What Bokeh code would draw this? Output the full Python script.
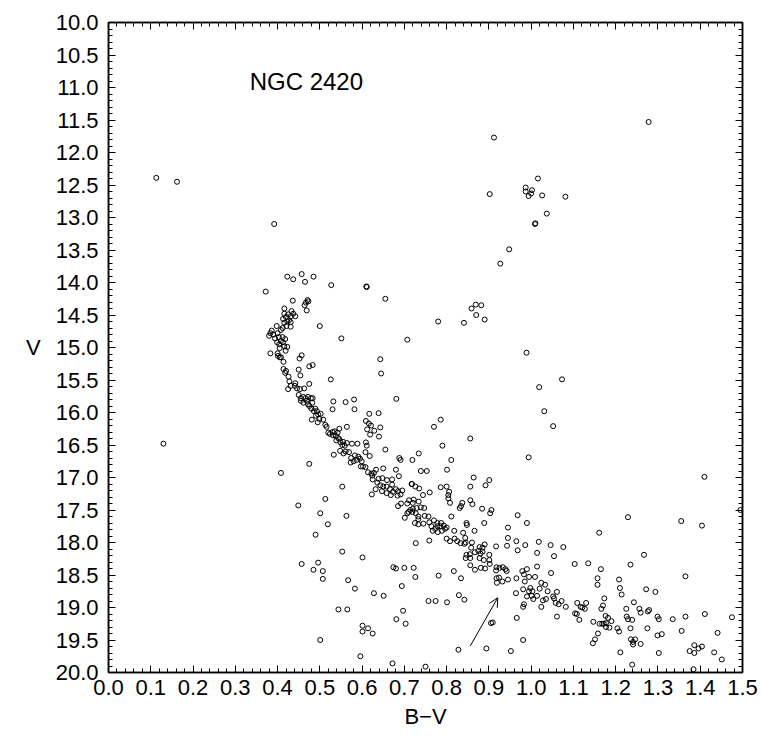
from bokeh.plotting import figure
from bokeh.models import (Range1d, LinearAxis, FixedTicker, NumeralTickFormatter,
                          Label, Arrow, OpenHead, ColumnDataSource)
from bokeh.embed import file_html
from bokeh.resources import INLINE

# ---------------- data (B-V, V) ----------------
bv_bright = [0.113, 0.162, 0.392, 1.278, 0.912, 1.016, 0.987, 0.987, 1.002, 1.000,
             0.994, 1.026, 1.081, 0.902, 1.037, 1.009, 1.010, 0.948, 0.927, 0.130]
v_bright = [12.39, 12.45, 13.10, 11.53, 11.77, 12.40, 12.54, 12.60, 12.58, 12.63,
            12.67, 12.66, 12.68, 12.64, 12.94, 13.10, 13.09, 13.49, 13.71, 16.48]

bv_turnoff = [0.423, 0.437, 0.457, 0.465, 0.485, 0.527, 0.610, 0.611, 0.372, 0.436,
              0.655, 0.471, 0.467, 0.464, 0.473, 0.469, 0.416, 0.433, 0.437, 0.425,
              0.416, 0.420, 0.431, 0.442, 0.413, 0.427, 0.423, 0.416, 0.431, 0.398,
              0.421, 0.431, 0.412, 0.408, 0.386, 0.383, 0.380, 0.390, 0.400, 0.403,
              0.394, 0.412, 0.418, 0.408, 0.399, 0.413, 0.404, 0.416, 0.423, 0.405,
              0.419, 0.383, 0.400, 0.405, 0.401, 0.408, 0.457, 0.452, 0.414, 0.500,
              0.551, 0.707, 0.643, 0.645, 0.475, 0.483, 0.450, 0.454, 0.414, 0.418,
              0.420, 0.426, 0.526, 0.428, 0.431, 0.425, 0.442, 0.441, 0.446, 0.453,
              0.463, 0.475]
v_turnoff = [13.91, 13.95, 13.87, 13.99, 13.91, 14.04, 14.06, 14.07, 14.14, 14.28,
             14.25, 14.27, 14.31, 14.35, 14.29, 14.43, 14.40, 14.44, 14.48, 14.49,
             14.48, 14.53, 14.52, 14.52, 14.56, 14.58, 14.60, 14.62, 14.61, 14.67,
             14.67, 14.68, 14.70, 14.73, 14.74, 14.78, 14.82, 14.80, 14.78, 14.84,
             14.86, 14.84, 14.87, 14.90, 14.92, 14.92, 14.95, 14.98, 14.99, 15.01,
             15.05, 15.09, 15.09, 15.15, 15.13, 15.15, 15.12, 15.17, 15.22, 14.67,
             14.86, 14.88, 15.18, 15.40, 15.29, 15.27, 15.34, 15.43, 15.33, 15.39,
             15.36, 15.45, 15.49, 15.52, 15.59, 15.64, 15.55, 15.59, 15.63, 15.64,
             15.63, 15.56]

bv_upper_ms = [0.450, 0.455, 0.461, 0.466, 0.472, 0.479, 0.455, 0.461, 0.469, 0.472,
               0.483, 0.482, 0.475, 0.480, 0.486, 0.489, 0.493, 0.496, 0.502, 0.491,
               0.499, 0.508, 0.481, 0.495, 0.513, 0.516, 0.532, 0.530, 0.561, 0.581,
               0.582, 0.681, 0.617, 0.639, 0.609, 0.616, 0.621, 0.546, 0.564, 0.612,
               0.629, 0.643, 0.619, 0.640, 0.520, 0.524, 0.530, 0.535, 0.542, 0.531,
               0.538, 0.543, 0.539, 0.546, 0.549, 0.555, 0.553, 0.559, 0.564, 0.576,
               0.589, 0.609, 0.611, 0.608, 0.618, 0.655, 0.548, 0.561, 0.569, 0.556,
               0.533, 0.574, 0.583, 0.591, 0.595, 0.573, 0.580, 0.587, 0.599, 0.597,
               0.602, 0.608, 0.633, 0.650, 0.680, 0.688, 0.691, 0.475]
v_upper_ms = [15.73, 15.78, 15.76, 15.78, 15.76, 15.78, 15.82, 15.85, 15.82, 15.87,
              15.78, 15.85, 15.90, 15.94, 15.98, 15.94, 15.98, 16.03, 16.02, 16.05,
              16.10, 16.11, 16.11, 16.15, 16.19, 16.22, 15.83, 15.95, 15.84, 15.80,
              15.95, 15.79, 16.02, 16.01, 16.13, 16.17, 16.20, 16.25, 16.22, 16.26,
              16.28, 16.23, 16.34, 16.37, 16.31, 16.33, 16.30, 16.29, 16.31, 16.35,
              16.36, 16.39, 16.43, 16.41, 16.46, 16.45, 16.50, 16.51, 16.47, 16.48,
              16.48, 16.46, 16.51, 16.61, 16.67, 16.57, 16.59, 16.60, 16.61, 16.63,
              16.65, 16.70, 16.66, 16.68, 16.71, 16.77, 16.75, 16.73, 16.75, 16.83,
              16.83, 16.84, 16.88, 16.86, 16.88, 16.70, 16.73, 16.79]

bv_mid_field = [0.869, 0.882, 0.859, 0.870, 0.890, 0.780, 0.841, 0.989, 1.073, 1.019,
                1.031, 1.052, 0.786, 0.770, 0.856, 0.790, 0.734, 0.719, 0.811, 0.994]
v_mid_field = [14.34, 14.35, 14.40, 14.50, 14.57, 14.60, 14.62, 15.08, 15.49, 15.61,
               15.98, 16.21, 16.11, 16.22, 16.40, 16.51, 16.63, 16.73, 16.73, 16.69]

bv_left_faint = [0.408, 0.553, 0.513, 0.449, 0.501, 0.563, 0.519, 0.490, 0.553, 0.601,
                 0.457, 0.496, 0.485, 0.507, 0.507, 0.567, 0.583, 0.628, 0.651, 0.674,
                 0.680, 0.700, 0.694, 0.544, 0.565, 0.697, 0.681, 0.703, 0.601, 0.601,
                 0.614, 0.625, 0.501, 0.596, 0.672]
v_left_faint = [16.93, 17.14, 17.33, 17.43, 17.55, 17.59, 17.72, 17.88, 18.14, 18.23,
                18.33, 18.31, 18.42, 18.44, 18.56, 18.58, 18.71, 18.78, 18.82, 18.38,
                18.40, 18.39, 18.67, 19.03, 19.03, 19.05, 19.18, 19.25, 19.28, 19.37,
                19.32, 19.40, 19.50, 19.75, 19.86]

bv_ms_a = [0.614, 0.622, 0.628, 0.624, 0.687, 0.625, 0.639, 0.648, 0.659, 0.671,
           0.636, 0.643, 0.650, 0.658, 0.671, 0.680, 0.666, 0.632, 0.623, 0.647,
           0.658, 0.668, 0.673, 0.685, 0.695, 0.684, 0.691, 0.717, 0.711, 0.707,
           0.692, 0.685, 0.710, 0.707, 0.701, 0.714]
v_ms_a = [16.92, 16.94, 16.93, 16.97, 16.98, 17.03, 17.02, 17.01, 17.04, 17.03,
          17.08, 17.12, 17.14, 17.14, 17.11, 17.18, 17.18, 17.18, 17.26, 17.21,
          17.24, 17.27, 17.22, 17.21, 17.20, 17.28, 17.26, 17.10, 17.35, 17.40,
          17.40, 17.44, 17.53, 17.55, 17.62, 17.50]

bv_ms_b = [0.739, 0.753, 0.801, 0.864, 0.718, 0.726, 0.735, 0.744, 0.760, 0.786,
           0.800, 0.806, 0.804, 0.804, 0.808, 0.856, 0.892, 0.901, 0.856, 0.861,
           0.837, 0.831, 0.834, 0.884, 0.906, 0.903, 0.889, 0.722, 0.720, 0.734,
           0.720, 0.729, 0.739, 0.747, 0.719, 0.727, 0.733, 0.748, 0.757, 0.733,
           0.725, 0.733, 0.745, 0.759, 0.811, 0.770, 0.778, 0.787, 0.793, 0.800,
           0.764, 0.773, 0.767, 0.778, 0.785, 0.796, 0.779, 0.789, 0.818, 0.839,
           0.847, 0.848, 0.866, 0.759, 0.727, 0.800, 0.808, 0.819, 0.825, 0.833,
           0.844, 0.845, 0.842, 0.860, 0.858, 0.878, 0.890, 0.885, 0.875, 0.867,
           0.885, 0.880, 0.855, 0.847, 0.845, 0.856, 0.878, 0.888, 0.901, 0.901,
           0.902, 0.856, 0.867, 0.881, 0.891]
v_ms_b = [16.90, 16.90, 16.88, 17.00, 17.10, 17.14, 17.17, 17.27, 17.23, 17.15,
          17.14, 17.22, 17.27, 17.32, 17.39, 17.14, 17.12, 17.04, 17.35, 17.41,
          17.39, 17.47, 17.44, 17.48, 17.50, 17.55, 17.70, 17.34, 17.39, 17.37,
          17.48, 17.47, 17.46, 17.47, 17.53, 17.55, 17.60, 17.59, 17.60, 17.64,
          17.70, 17.72, 17.71, 17.69, 17.60, 17.66, 17.70, 17.70, 17.74, 17.77,
          17.75, 17.79, 17.82, 17.75, 17.75, 17.79, 17.84, 17.82, 17.82, 17.85,
          17.70, 17.73, 17.82, 17.97, 18.01, 17.94, 17.98, 17.94, 17.98, 18.01,
          17.93, 18.00, 18.02, 18.00, 18.08, 18.07, 18.03, 18.08, 18.13, 18.15,
          18.14, 18.17, 18.18, 18.19, 18.24, 18.24, 18.24, 18.27, 18.19, 18.27,
          18.33, 18.35, 18.42, 18.39, 18.40]

bv_ms_c = [0.917, 0.943, 0.945, 0.945, 0.968, 0.990, 0.965, 0.986, 0.968, 1.018,
           1.014, 1.046, 1.076, 1.054, 1.103, 0.918, 0.917, 0.925, 0.933, 0.939,
           0.942, 0.918, 0.924, 0.919, 0.932, 0.945, 0.965, 0.979, 0.990, 0.983,
           0.995, 1.009, 1.014, 1.047, 0.985, 1.024, 1.033, 1.020, 1.039, 1.061,
           0.981, 0.998, 0.995, 1.003, 0.990, 1.001, 1.005, 1.014, 1.052, 1.054,
           1.058, 1.028, 1.035, 1.065, 1.072, 1.082, 1.104, 0.964, 0.983, 0.981,
           1.024, 1.061, 0.966, 0.981, 0.952, 0.894, 0.828, 0.905, 0.909, 0.842,
           0.829, 0.801, 0.774, 0.757, 0.722, 0.726, 0.781, 0.817, 0.834, 0.750]
v_ms_c = [18.06, 18.05, 17.93, 17.77, 17.58, 17.70, 17.98, 18.04, 18.12, 17.99,
          18.16, 18.04, 18.07, 18.21, 18.33, 18.38, 18.43, 18.39, 18.38, 18.41,
          18.44, 18.55, 18.54, 18.62, 18.60, 18.57, 18.55, 18.44, 18.41, 18.49,
          18.53, 18.53, 18.37, 18.47, 18.60, 18.62, 18.65, 18.71, 18.75, 18.76,
          18.72, 18.70, 18.75, 18.75, 18.83, 18.82, 18.87, 18.82, 18.83, 18.86,
          18.93, 18.89, 18.87, 18.95, 18.90, 18.99, 19.09, 18.78, 18.95, 18.99,
          18.99, 19.14, 19.16, 19.50, 19.67, 19.63, 19.65, 19.24, 19.23, 18.88,
          18.81, 18.92, 18.90, 18.90, 18.39, 18.53, 18.51, 18.44, 18.55, 19.91]

bv_red_faint = [1.410, 1.495, 1.229, 1.355, 1.404, 1.161, 1.267, 1.135, 1.235, 1.165,
                1.157, 1.157, 1.208, 1.210, 1.214, 1.365, 1.272, 1.294, 1.173, 1.109,
                1.117, 1.121, 1.130, 1.127, 1.108, 1.114, 1.170, 1.166, 1.176, 1.182,
                1.190, 1.177, 1.177, 1.185, 1.147, 1.162, 1.168, 1.172, 1.158, 1.151,
                1.146, 1.225, 1.226, 1.229, 1.239, 1.243, 1.256, 1.259, 1.276, 1.279,
                1.204, 1.208, 1.235, 1.236, 1.241, 1.241, 1.246, 1.259, 1.275, 1.211,
                1.239, 1.299, 1.302, 1.299, 1.309, 1.302, 1.335, 1.365, 1.356, 1.411,
                1.475, 1.441, 1.375, 1.386, 1.396, 1.386, 1.404, 1.433, 1.451, 1.384]
v_red_faint = [16.99, 17.50, 17.61, 17.67, 17.74, 17.85, 18.19, 18.32, 18.34, 18.41,
               18.55, 18.65, 18.57, 18.70, 18.80, 18.52, 18.72, 18.76, 18.86, 18.93,
               18.99, 19.00, 18.93, 19.02, 19.10, 19.19, 18.97, 19.02, 19.13, 19.16,
               19.21, 19.24, 19.30, 19.31, 19.22, 19.25, 19.25, 19.25, 19.40, 19.49,
               19.55, 19.02, 19.14, 19.18, 19.19, 18.92, 19.02, 19.08, 19.06, 19.04,
               19.32, 19.37, 19.32, 19.49, 19.53, 19.57, 19.49, 19.56, 19.32, 19.69,
               19.88, 19.14, 19.18, 19.43, 19.41, 19.70, 19.18, 19.14, 19.36, 19.10,
               19.15, 19.39, 19.67, 19.58, 19.63, 19.70, 19.60, 19.69, 19.80, 19.95]

arrow_start = (0.856, 19.59)
arrow_end = (0.921, 18.85)

x_major = [round(0.1 * i, 1) for i in range(16)]
x_minor = [round(0.02 * i, 2) for i in range(76)]
y_major = [10 + 0.5 * i for i in range(21)]
y_minor = [round(10 + 0.1 * i, 1) for i in range(101)]

title_text = "NGC 2420"
x_label = "B\u2212V"
y_label = "V"

# ---------------- figure ----------------
bv = (bv_bright + bv_turnoff + bv_upper_ms + bv_mid_field + bv_left_faint
      + bv_ms_a + bv_ms_b + bv_ms_c + bv_red_faint)
vv = (v_bright + v_turnoff + v_upper_ms + v_mid_field + v_left_faint
      + v_ms_a + v_ms_b + v_ms_c + v_red_faint)
src = ColumnDataSource(dict(bv=bv, v=vv))

FONT = "Liberation Sans"
p = figure(width=759, height=734, output_backend="svg", toolbar_location=None,
           x_range=Range1d(0.0, 1.5), y_range=Range1d(20.0, 10.0),
           min_border_left=108, min_border_right=17, min_border_top=22,
           min_border_bottom=62, x_axis_location="below", y_axis_location="left")
p.xgrid.visible = False
p.ygrid.visible = False
p.background_fill_color = "white"
p.border_fill_color = "white"
p.outline_line_color = "black"
p.outline_line_width = 1.5

xt = FixedTicker(ticks=x_major, minor_ticks=x_minor)
yt = FixedTicker(ticks=y_major, minor_ticks=y_minor)


def style(ax, ticker, show_labels):
    ax.ticker = ticker
    ax.formatter = NumeralTickFormatter(format="0.0")
    ax.axis_line_color = "black"
    ax.axis_line_width = 1.5
    ax.major_tick_in = 7
    ax.major_tick_out = 0
    ax.minor_tick_in = 4
    ax.minor_tick_out = 0
    ax.major_tick_line_color = "black"
    ax.minor_tick_line_color = "black"
    ax.major_tick_line_width = 1
    ax.minor_tick_line_width = 1
    if show_labels:
        ax.major_label_text_font = FONT
        ax.major_label_text_font_size = "22px"
        ax.major_label_text_color = "black"
        ax.axis_label_text_font = FONT
        ax.axis_label_text_font_size = "22px"
        ax.axis_label_text_font_style = "normal"
        ax.axis_label_text_color = "black"
    else:
        ax.major_label_text_font_size = "0px"
        ax.major_label_text_color = None


xa = p.xaxis[0]
ya = p.yaxis[0]
style(xa, xt, True)
style(ya, yt, True)
xa.axis_label = x_label
xa.major_label_standoff = 7
xa.axis_label_standoff = 6
ya.major_label_standoff = 10
ya.axis_label = y_label
ya.axis_label_standoff = 12
try:
    ya.axis_label_orientation = "horizontal"
except Exception:
    pass

top = LinearAxis()
style(top, xt, False)
p.add_layout(top, "above")
right = LinearAxis()
style(right, yt, False)
p.add_layout(right, "right")

p.scatter("bv", "v", source=src, marker="circle", size=5,
          fill_color=None, line_color="black", line_width=1)

p.add_layout(Label(x=0.334, y=10.9, text=title_text, text_font=FONT,
                   text_font_size="24px", text_align="left",
                   text_baseline="middle", text_color="black"))

p.add_layout(Arrow(end=OpenHead(size=9, line_width=1, line_color="black"),
                   x_start=arrow_start[0], y_start=arrow_start[1],
                   x_end=arrow_end[0], y_end=arrow_end[1],
                   line_width=1, line_color="black"))

open("out.html", "w").write(file_html(p, INLINE))
